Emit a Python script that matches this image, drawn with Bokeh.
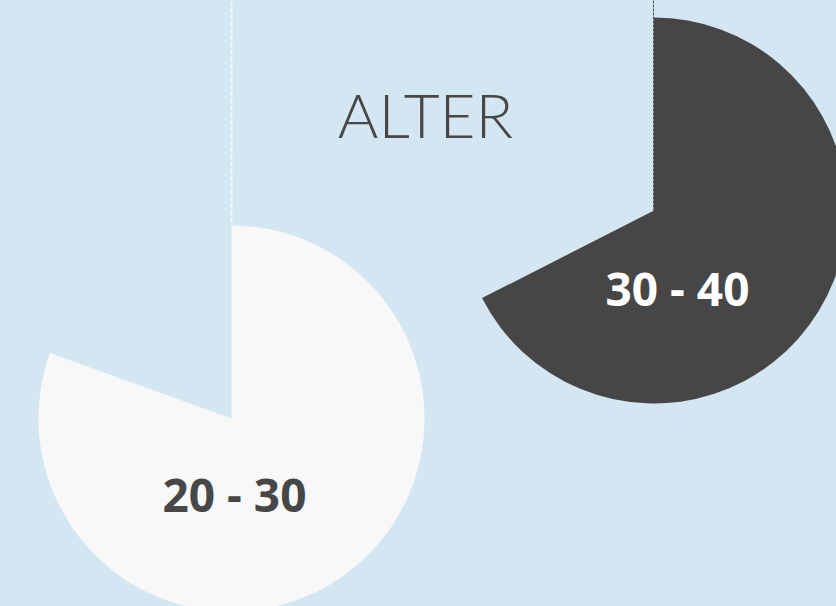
import math
from bokeh.plotting import figure
from bokeh.models import Range1d, ColumnDataSource
from bokeh.core.properties import value
from bokeh.embed import file_html
from bokeh.resources import INLINE

# Data
categories = ["20 - 30", "30 - 40"]
shares = [80.5, 67.5]  # percent of the full circle
title_text = "ALTER"

# Layout (page-pixel based data space)
BG = "#d4e6f1"
W, H = 836, 606
centers_x = [231, 653.5]
centers_y = [H - 418, H - 210]
radius = 193
fills = ["#f8f8f8", "#464646"]
label_colors = ["#474747", "#ffffff"]
label_x = [234, 677]
label_y = [H - 493, H - 287]

start = [math.pi / 2] * 2
end = [math.pi / 2 - 2 * math.pi * s / 100.0 for s in shares]

src = ColumnDataSource(dict(x=centers_x, y=centers_y, start=start, end=end,
                            fill=fills, cat=categories, lx=label_x, ly=label_y,
                            lc=label_colors))

p = figure(width=W, height=H, output_backend="svg", toolbar_location=None,
           x_range=Range1d(0, W), y_range=Range1d(0, H),
           background_fill_color=BG, border_fill_color=BG, min_border=0)
p.axis.visible = False
p.grid.visible = False
p.outline_line_color = None

# guide lines from top to wedge centres
p.segment(x0=[231], y0=[H], x1=[231], y1=[H - 225],
          line_color="#f4f8fb", line_alpha=1.0, line_width=2, line_dash="5 2")
p.segment(x0=[653], y0=[H], x1=[653], y1=[H - 210],
          line_color="#4a4a4a", line_width=1, line_dash="3 1")

p.wedge(x="x", y="y", radius=radius, start_angle="start", end_angle="end",
        direction="clock", fill_color="fill", line_color=None, source=src)

p.text(x="lx", y="ly", text="cat", text_color="lc", text_font=value("Open Sans"),
       text_font_style="bold", text_font_size="46px", text_align="center",
       text_baseline="middle", source=src)

p.text(x=[425], y=[H - 113], text=[title_text], text_color="#474747",
       text_font=value("Lato Light"), text_font_size="62px", text_align="center",
       text_baseline="middle")

html = file_html(p, INLINE)
html = html.replace("<head>", "<head><style>body{background:%s;}</style>" % BG, 1)
open("out.html", "w").write(html)
